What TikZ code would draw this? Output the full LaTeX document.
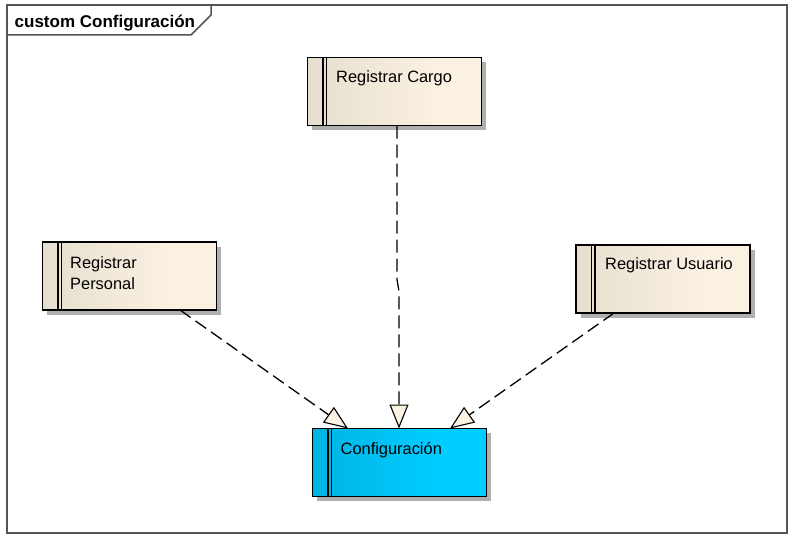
\documentclass[tikz,border=0pt]{standalone}
\usepackage{fontspec}
\setmainfont{Liberation Sans}
\usetikzlibrary{arrows.meta,shadows}

\definecolor{creamL}{RGB}{230,222,207}
\definecolor{creamR}{RGB}{250,241,226}
\definecolor{cyanL}{RGB}{0,180,226}
\definecolor{cyanR}{RGB}{0,204,255}
\definecolor{tipfill}{RGB}{251,242,228}
\definecolor{framegray}{RGB}{85,85,85}
\definecolor{shadowgray}{RGB}{175,175,175}

% left-to-right fills that reach their light colour past the middle
\pgfdeclarehorizontalshading{creamshade}{100bp}{color(0bp)=(creamL); color(25bp)=(creamL);
  color(62bp)=(creamR); color(100bp)=(creamR)}
\pgfdeclarehorizontalshading{cyanshade}{100bp}{color(0bp)=(cyanL); color(25bp)=(cyanL);
  color(60bp)=(cyanR); color(100bp)=(cyanR)}

\begin{document}
\begin{tikzpicture}[x=1pt,y=-1pt,
  usecase/.style={draw=black, line width=1.6pt, outer sep=0pt, inner sep=0pt,
    minimum width=174pt, minimum height=68pt,
    general shadow={fill=shadowgray, shadow xshift=4.5pt, shadow yshift=-4.5pt}},
  creambox/.style={usecase, shading=creamshade},
  cyanbox/.style={usecase, shading=cyanshade},
  barline/.style={draw=black, line width=1.1pt},
  lbl/.style={anchor=base west, inner sep=0pt, font=\fontsize{16.4}{21}\selectfont},
  dep/.style={draw=black, line width=1.3pt, dash pattern=on 13pt off 6pt,
    -{Triangle[length=24pt, width=19pt, fill=tipfill, line width=1.1pt]}},
  framebox/.style={draw=framegray, line width=1.5pt}
]
\useasboundingbox (0,0) rectangle (789,535);

% diagram frame and its name tab
\draw[framebox] (7,5) rectangle (787,533);
\draw[framebox] (7,35) -- (191,35) -- (211,15) -- (211,5);
\node[anchor=base west, inner sep=0pt, font=\bfseries\fontsize{17}{20}\selectfont]
  (title) at (14.5,27.5) {custom Configuración};

% use case boxes
\node[creambox] (cargo)    at (394.5,91.5) {};
\node[creambox] (personal) at (129.5,276)  {};
\node[creambox] (usuario)  at (663,279)    {};
\node[cyanbox]  (config)   at (399.5,462.5) {};

% double bar at the left of every box
\foreach \b in {cargo, personal, usuario, config}{
  \draw[barline] ([xshift=15.5pt]\b.north west) -- ([xshift=15.5pt]\b.south west);
  \draw[barline] ([xshift=19pt]\b.north west) -- ([xshift=19pt]\b.south west);
}

% box texts
\node[lbl] (cargo-t)     at ([shift={(28.5,24.5)}]cargo.north west) {Registrar Cargo};
\node[lbl] (personal-t1) at ([shift={(27.5,26.5)}]personal.north west) {Registrar};
\node[lbl] (personal-t2) at ([shift={(27.5,47.5)}]personal.north west) {Personal};
\node[lbl] (usuario-t)   at ([shift={(29,24.5)}]usuario.north west) {Registrar Usuario};
\node[lbl] (config-t)    at ([shift={(28,26)}]config.north west) {Configuración};

% dependency connectors
\coordinate (c-out) at ([xshift=2.5pt]cargo.south);
\coordinate (c-in)  at ([xshift=-0.5pt]config.north);
\coordinate (p-out) at ([xshift=137.5pt]personal.south west);
\coordinate (p-in)  at ([xshift=35.5pt]config.north west);
\coordinate (u-out) at ([xshift=38pt]usuario.south west);
\coordinate (u-in)  at ([xshift=137.5pt]config.north west);

\draw[dep] (c-out) -- ++(0,154) -- ++(2,12) -- (c-in);
\draw[dep] (p-out) -- (p-in);
\draw[dep] (u-out) -- (u-in);
\end{tikzpicture}
\end{document}
